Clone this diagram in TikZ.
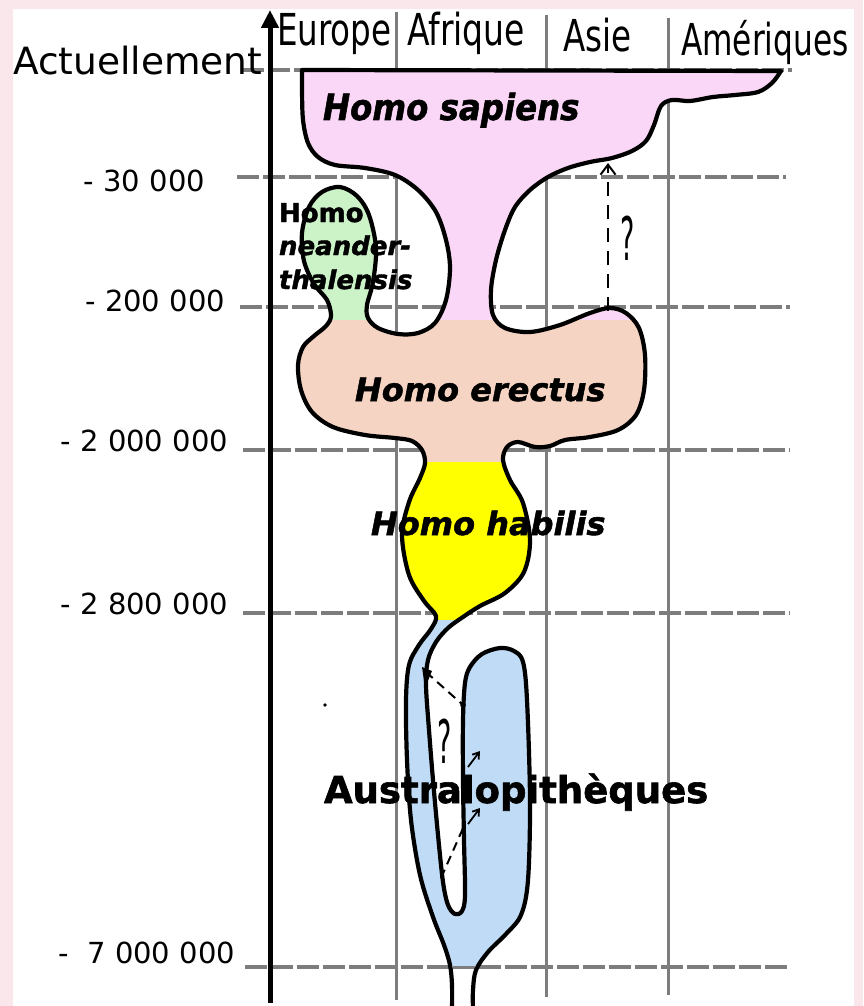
\documentclass[tikz,border=0pt]{standalone}
\usepackage{fontspec}
\setmainfont{DejaVu Sans}[BoldFeatures={FakeBold=1.6}, BoldItalicFeatures={FakeBold=1.6}]
\usetikzlibrary{arrows.meta}
\definecolor{framec}{RGB}{250,231,235}
\definecolor{gridgray}{RGB}{125,125,125}
\definecolor{sapc}{RGB}{250,215,246}
\definecolor{neac}{RGB}{204,242,200}
\definecolor{erec}{RGB}{245,212,196}
\definecolor{habc}{RGB}{255,255,0}
\definecolor{ausc}{RGB}{191,219,245}
\tikzset{
  hgrid/.style={draw=gridgray, line width=3.2pt, dash pattern=on 22pt off 4pt},
  vgrid/.style={draw=gridgray, line width=3pt},
  outl/.style={draw=black, line width=4.2pt, line join=round, line cap=round},
  lbl/.style={inner sep=0pt, outer sep=0pt},
  colhead/.style={lbl, anchor=base west, font=\fontsize{44}{46}\selectfont},
  tick/.style={lbl, anchor=base east, font=\fontsize{29}{33}\selectfont},
  species/.style={lbl, anchor=base west, font=\fontsize{32}{36}\selectfont\bfseries\itshape},
  qmark/.style={lbl, font=\fontsize{60}{60}\selectfont},
  dashpen/.style={draw=black, line width=2pt, dash pattern=on 14pt off 9pt},
}
\def\silhouette{(302,70) -- (781,71) -- plot[smooth, tension=0.55] coordinates {
(781,71) (772,83) (758,92) (735,95) (713,97) (690,101) (672,100) (661,106) (654,125) (646,141) (632,151) (612,158) (590,162) (568,168) (548,177) (530,190) (515,207) (505,230) (496,260) (491,290) (493,315) (505,328) (530,332) (560,325) (590,313) (610,308) (626,313) (639,328) (645,355) (644,390) (636,415) (618,430) (590,437) (565,440) (550,446) (535,447) (518,442) (507,447) (503,460) (510,480) (523,503) (530,540) (524,572) (505,593) (480,606) (463,617) (448,628) (436,642) (428,660) (426,685) (429,730) (433,780) (438,835) (443,882) (448,905) (455,914) (462,911) (465,895) (464,840) (463,780) (463,720) (465,683) (470,667) (482,654) (500,648) (514,651) (523,662) (527,700) (530,800) (528,880) (521,915) (506,934) (488,952) (476,970) (473,990) (473,1010)}
-- (452,1010) -- plot[smooth, tension=0.55] coordinates {
(452,1010) (452,985) (450,965) (444,945) (433,917) (420,875) (411,820) (407,760) (406,700) (409,665) (419,645) (431,629) (436,616) (424,601) (409,575) (402,535) (409,502) (420,478) (425,463) (422,450) (412,441) (395,438) (365,435) (333,427) (312,412) (301,390) (298,365) (303,347) (314,336) (326,326) (331,316) (327,300) (314,284) (304,261) (302,233) (309,207) (322,192) (340,187) (357,196) (369,215) (376,248) (373,282) (367,305) (368,318) (378,328) (398,334) (418,333) (435,323) (446,300) (450,268) (446,240) (436,212) (418,190) (395,175) (365,168) (335,165) (318,157) (308,143) (303,120) (302,90) (302,70)} -- cycle}
\begin{document}
\begin{tikzpicture}[x=1pt,y=-1pt]
\useasboundingbox (0,0) rectangle (863,1006);
% background
\fill[framec] (0,0) rectangle (863,1006);
\fill[white] (13,9) rectangle (854,1006);
% vertical grid lines
\draw[vgrid] (396,12) -- (396,1000);
\draw[vgrid] (546,15) -- (546,997);
\draw[vgrid] (668,18) -- (668,995);
% horizontal grid lines
\draw[hgrid] (242,70) -- (792,70);
\draw[hgrid] (237,177) -- (786,177);
\draw[hgrid] (240,307) -- (790,307);
\draw[hgrid] (243,450) -- (790,450);
\draw[hgrid] (243,613) -- (790,613);
\draw[hgrid] (245,967) -- (790,967);
% time axis
\coordinate (axbot) at (270,1003);
\coordinate (axtop) at (270,10);
\draw[line width=5pt, -{Triangle[length=18pt,width=17pt]}] (axbot) -- (axtop);
% coloured silhouette
\begin{scope}
\clip \silhouette;
\fill[sapc] (0,0) rectangle (863,320);
\fill[neac] (0,182) rectangle (400,322);
\fill[erec] (0,320) rectangle (863,462);
\fill[habc] (0,462) rectangle (863,620);
\fill[ausc] (0,620) rectangle (863,966);
\end{scope}
\draw[outl] \silhouette;
% column headings
\node[colhead] (eur) at (277,46) {\scalebox{0.74}[1]{Europe}};
\node[colhead] (afr) at (407,46) {\scalebox{0.75}[1]{Afrique}};
\node[colhead] (asi) at (563,52) {\scalebox{0.74}[1]{Asie}};
\node[colhead] (ame) at (681,56) {\scalebox{0.71}[1]{Amériques}};
% time labels
\node[lbl, anchor=base west, font=\fontsize{37.5}{40}\selectfont] (now) at (13,75) {Actuellement};
\node[tick] (t1) at (205,191) {- 30 000};
\node[tick] (t2) at (225,311) {- 200 000};
\node[tick] (t3) at (228,451) {- 2 000 000};
\node[tick] (t4) at (228,614) {- 2 800 000};
\node[tick] (t5) at (235,963) {-\ \ 7 000 000};
% species labels
\node[species] (sap) at (323,120) {\scalebox{0.9}[1]{\fontsize{36}{40}\selectfont Homo sapiens}};
\node[lbl, anchor=base west, font=\fontsize{26}{30}\selectfont\bfseries] (nea) at (279,222) {Homo};
\node[lbl, anchor=base west, font=\fontsize{26}{30}\selectfont\bfseries\itshape] (nea2) at (279,255) {neander-};
\node[lbl, anchor=base west, font=\fontsize{26}{30}\selectfont\bfseries\itshape] (nea3) at (279,289) {thalensis};
\node[species] (ere) at (355,401) {Homo erectus};
\node[species] (hab) at (371,535) {Homo habilis};
\node[lbl, anchor=base west, font=\fontsize{37}{40}\selectfont\bfseries] (aus) at (324,803) {Australopithèques};
% question marks
\node[qmark] (q1) at (628,238) {\scalebox{0.45}[1]{?}};
\node[qmark] (q2) at (445,741) {\scalebox{0.45}[1]{?}};
% dashed links
\coordinate (a1s) at (608,311);
\coordinate (a1e) at (608,163);
\draw[dashpen, -{Straight Barb[length=10pt,width=15pt]}] (a1s) -- (a1e);
\coordinate (b1s) at (426,672);
\coordinate (b1e) at (463,705);
\fill (422,667) -- (432,671) -- (425,688) -- cycle;
\draw[dashpen, dash pattern=on 9pt off 6pt] (b1s) -- (b1e);
\fill (b1e) circle (2.8pt);
\coordinate (c1s) at (441,878);
\coordinate (c1e) at (464,826);
\draw[dashpen, dash pattern=on 9pt off 6pt] (c1s) -- (c1e);
\coordinate (d1s) at (468,767);
\coordinate (d1e) at (480,751);
\draw[line width=1.8pt, -{Straight Barb[length=6pt,width=8pt]}] (d1s) -- (d1e);
\coordinate (d2s) at (468,824);
\coordinate (d2e) at (480,808);
\draw[line width=1.8pt, -{Straight Barb[length=6pt,width=8pt]}] (d2s) -- (d2e);
\fill (325,705) circle (1.8pt);
\end{tikzpicture}
\end{document}
